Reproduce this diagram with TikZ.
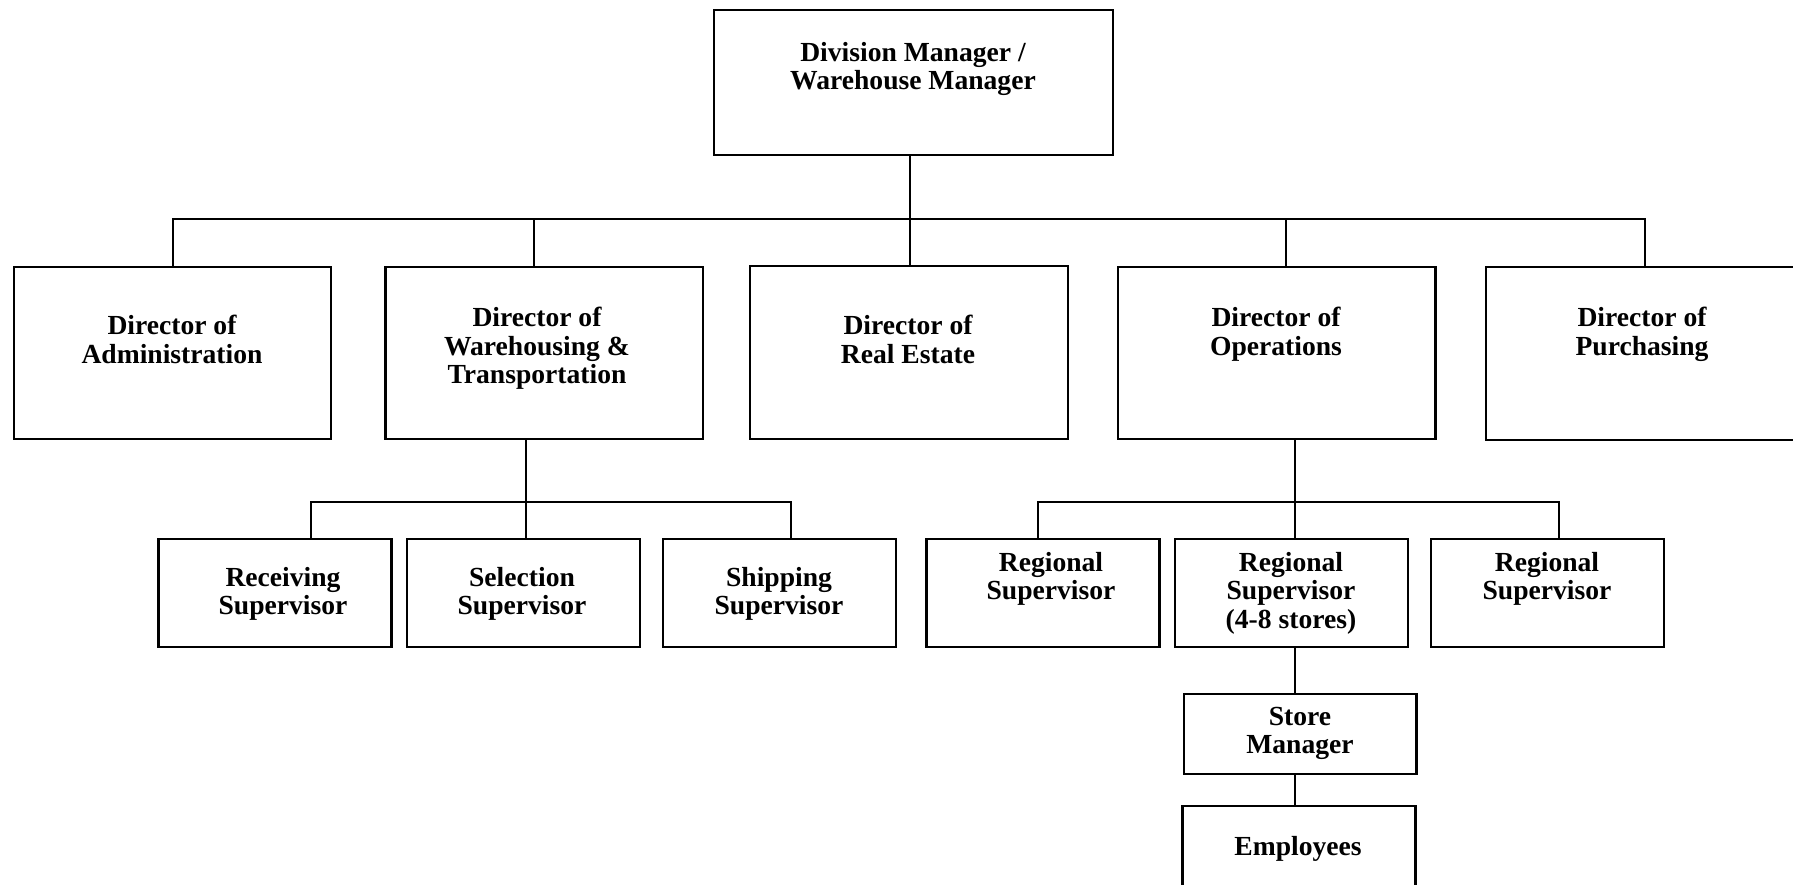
\documentclass[tikz,border=0pt]{standalone}
\usepackage{fontspec}
\setmainfont{Liberation Serif}
\tikzset{
  box/.style={draw, line width=1.1pt, inner sep=0pt},
  dirbox/.style={box, minimum width=158.8pt, minimum height=86.3pt},
  supbox/.style={box, minimum width=116.5pt, minimum height=54pt},
  lbl/.style={font=\fontsize{13.8}{14.15}\selectfont\bfseries, align=center, inner sep=0pt, anchor=north},
  link/.style={line width=1pt}
}
\begin{document}
\begin{tikzpicture}[x=0.5pt, y=-0.5pt]
  \useasboundingbox (0,0) rectangle (1793,884);

  \node[box, minimum width=199.65pt, minimum height=72.5pt] (top) at (913.3,82.5) {};
  \node[dirbox] (adm) at (172.5,353) {};
  \node[dirbox] (wh) at (544.2,353) {};
  \node[dirbox] (re) at (908.9,352.3) {};
  \node[dirbox] (ops) at (1276.75,353) {};
  \node[dirbox] (pur) at (1644.75,353.5) {};

  \node[supbox] (rec) at (275,592.7) {};
  \node[supbox] (sel) at (523.2,592.7) {};
  \node[supbox] (ship) at (779.6,592.7) {};
  \node[supbox] (rega) at (1042.9,592.7) {};
  \node[supbox] (regb) at (1291.5,592.7) {};
  \node[supbox] (regc) at (1547.5,592.7) {};
  \node[box, minimum width=116.25pt, minimum height=40pt] (store) at (1300.25,734) {};
  \node[box, minimum width=116.5pt, minimum height=41pt] (emp) at (1298.9,847) {};

  \node[lbl] (topt) at (913,42) {Division Manager /\\Warehouse Manager};
  \node[lbl] (admt) at (172,315) {Director of\\Administration};
  \node[lbl] (wht) at (537,307) {Director of\\Warehousing \&\\Transportation};
  \node[lbl] (ret) at (908,315) {Director of\\Real Estate};
  \node[lbl] (opst) at (1276,307) {Director of\\Operations};
  \node[lbl] (purt) at (1642,307) {Director of\\Purchasing};
  \node[lbl] (rect) at (283,567) {Receiving\\Supervisor};
  \node[lbl] (selt) at (522,567) {Selection\\Supervisor};
  \node[lbl] (shipt) at (779,567) {Shipping\\Supervisor};
  \node[lbl] (regat) at (1051,552) {Regional\\Supervisor};
  \node[lbl] (regbt) at (1291,552) {Regional\\Supervisor\\(4-8 stores)};
  \node[lbl] (regct) at (1547,552) {Regional\\Supervisor};
  \node[lbl] (storet) at (1300,707) {Store\\Manager};
  \node[lbl] (empt) at (1298,836) {Employees};

  \coordinate (bus) at (910,219.3);
  \coordinate (jwh) at (533.5,219.3);
  \coordinate (jops) at (1286.2,219.3);
  \draw[link] (top.south -| bus) -- (re.north -| bus);
  \draw[link] (adm.north) |- (bus) -| (pur.north);
  \draw[link] (jwh) -- (jwh |- wh.north);
  \draw[link] (jops) -- (jops |- ops.north);

  \coordinate (subwh) at (526.4,501.7);
  \coordinate (jrec) at (310.6,501.7);
  \coordinate (jship) at (791,501.7);
  \draw[link] (wh.south -| subwh) -- (sel.north -| subwh);
  \draw[link] (jrec |- rec.north) -- (jrec) -- (jship) -- (jship |- ship.north);

  \coordinate (subops) at (1294.5,501.7);
  \coordinate (jrega) at (1038.2,501.7);
  \coordinate (jregc) at (1559,501.7);
  \draw[link] (ops.south -| subops) -- (regb.north -| subops);
  \draw[link] (jrega |- rega.north) -- (jrega) -- (jregc) -- (jregc |- regc.north);
  \draw[link] (regb.south -| subops) -- (store.north -| subops);
  \draw[link] (store.south -| subops) -- (emp.north -| subops);
\end{tikzpicture}
\end{document}
